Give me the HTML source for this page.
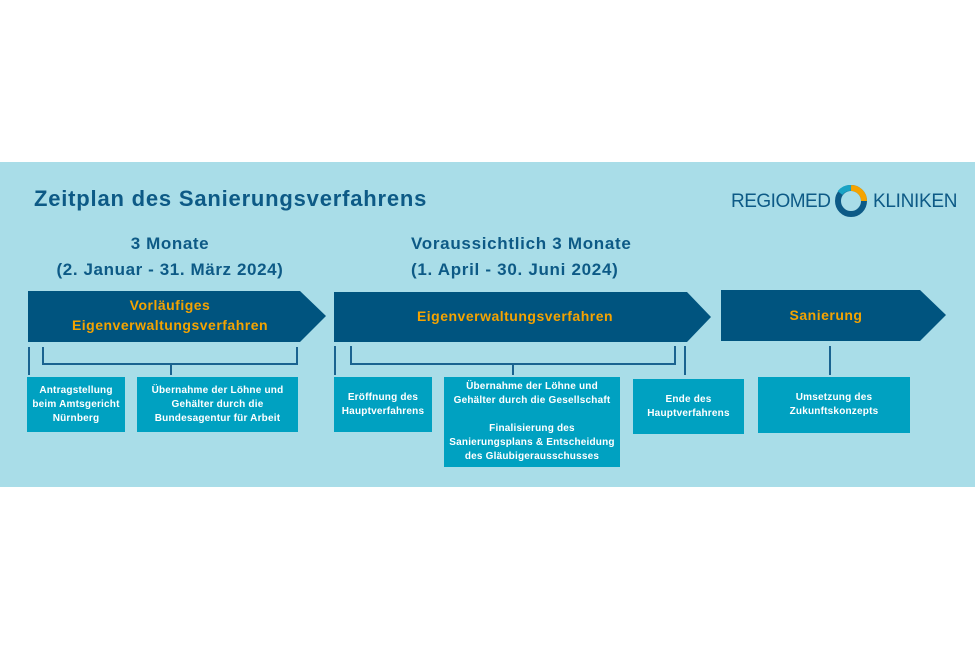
<!DOCTYPE html>
<html><head><meta charset="utf-8"><style>
body{margin:0;width:975px;height:650px;background:#fff;position:relative;font-family:"Liberation Sans",sans-serif;overflow:hidden}
.panel{position:absolute;left:0;top:162px;width:975px;height:325px;background:#a9dde8}
.t{position:absolute;color:#0d5a86;font-weight:bold}
.box{position:absolute;background:#00a1c1;color:#fff;font-weight:bold;font-size:10px;line-height:14px;text-align:center;display:flex;align-items:center;justify-content:center;flex-direction:column;letter-spacing:0.2px}
svg{position:absolute;left:0;top:0}
.lbl{position:absolute;color:#f5a300;font-weight:bold;font-size:14px;text-align:center;line-height:20px;letter-spacing:0.5px}
</style></head><body>
<div class="panel"></div>
<svg width="975" height="650">
<polygon points="28,291 300,291 326,316 300,342 28,342" fill="#00547f"/>
<polygon points="334,292 687,292 711,317 687,342 334,342" fill="#00547f"/>
<polygon points="721,290 920,290 946,315 920,341 721,341" fill="#00547f"/>
<g stroke="#1a6390" stroke-width="2" fill="none">
<path d="M29,347V375"/><path d="M43,347V364H297V347"/><path d="M171,364V375"/>
<path d="M335,346V375"/><path d="M351,346V364H675V346"/><path d="M513,364V375"/><path d="M685,346V375"/>
<path d="M830,346V375"/>
</g>
<circle cx="851" cy="201" r="13" fill="none" stroke="#0d5a86" stroke-width="6"/>
<path d="M851,188 A13,13 0 0 1 864,201" fill="none" stroke="#f5a300" stroke-width="6"/>
<path d="M840,193 A13,13 0 0 1 851,188" fill="none" stroke="#1aa3c4" stroke-width="6"/>
</svg>
<div class="t" style="left:34px;top:186px;font-size:22px;letter-spacing:0.8px">Zeitplan des Sanierungsverfahrens</div>
<div class="t" style="left:731px;top:191px;font-size:19px;font-weight:normal;letter-spacing:-0.5px">REGIOMED</div>
<div class="t" style="left:873px;top:191px;font-size:19px;font-weight:normal;letter-spacing:-0.3px">KLINIKEN</div>
<div class="t" style="left:30px;top:231px;width:280px;text-align:center;font-size:17px;line-height:26px;letter-spacing:0.6px">3 Monate<br>(2. Januar - 31. März 2024)</div>
<div class="t" style="left:411px;top:231px;font-size:17px;line-height:26px;letter-spacing:0.7px">Voraussichtlich 3 Monate<br>(1. April - 30. Juni 2024)</div>
<div class="lbl" style="left:28px;top:295px;width:284px">Vorläufiges<br>Eigenverwaltungsverfahren</div>
<div class="lbl" style="left:334px;top:306px;width:362px">Eigenverwaltungsverfahren</div>
<div class="lbl" style="left:721px;top:305px;width:210px">Sanierung</div>
<div class="box" style="left:27px;top:377px;width:98px;height:55px">Antragstellung<br>beim Amtsgericht<br>Nürnberg</div>
<div class="box" style="left:137px;top:377px;width:161px;height:55px">Übernahme der Löhne und<br>Gehälter durch die<br>Bundesagentur für Arbeit</div>
<div class="box" style="left:334px;top:377px;width:98px;height:55px">Eröffnung des<br>Hauptverfahrens</div>
<div class="box" style="left:444px;top:377px;width:176px;height:90px">Übernahme der Löhne und<br>Gehälter durch die Gesellschaft<br><br>Finalisierung des<br>Sanierungsplans &amp; Entscheidung<br>des Gläubigerausschusses</div>
<div class="box" style="left:633px;top:379px;width:111px;height:55px">Ende des<br>Hauptverfahrens</div>
<div class="box" style="left:758px;top:377px;width:152px;height:56px">Umsetzung des<br>Zukunftskonzepts</div>
</body></html>
